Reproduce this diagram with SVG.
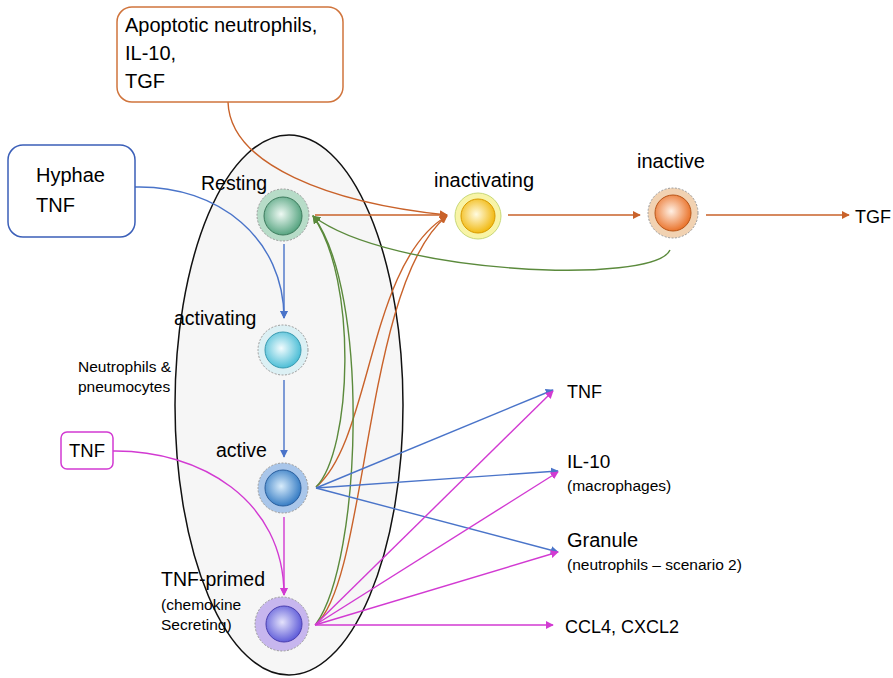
<svg xmlns="http://www.w3.org/2000/svg" width="893" height="678" viewBox="0 0 893 678">
<style>
text{font-family:"Liberation Sans",Arial,sans-serif;fill:#000}
.lbl{font-size:19.5px}
.sm{font-size:15.5px}
.box{fill:#fff;stroke-width:1.5}
.c{fill:none;stroke-width:1.4}
.or{stroke:#c9622a}
.gr{stroke:#5b8a3c}
.bl{stroke:#4a74c9}
.mg{stroke:#d23ad2}
.ring{stroke:#9a9a9a;stroke-width:1;stroke-dasharray:2 1.5}
</style>
<defs>
<marker id="aor" viewBox="0 0 10 10" refX="9" refY="5" markerWidth="8" markerHeight="8" markerUnits="userSpaceOnUse" orient="auto"><path d="M0,0L10,5L0,10z" fill="#c9622a"/></marker>
<marker id="agr" viewBox="0 0 10 10" refX="9" refY="5" markerWidth="8" markerHeight="8" markerUnits="userSpaceOnUse" orient="auto"><path d="M0,0L10,5L0,10z" fill="#5b8a3c"/></marker>
<marker id="abl" viewBox="0 0 10 10" refX="9" refY="5" markerWidth="8" markerHeight="8" markerUnits="userSpaceOnUse" orient="auto"><path d="M0,0L10,5L0,10z" fill="#4a74c9"/></marker>
<marker id="amg" viewBox="0 0 10 10" refX="9" refY="5" markerWidth="8" markerHeight="8" markerUnits="userSpaceOnUse" orient="auto"><path d="M0,0L10,5L0,10z" fill="#d23ad2"/></marker>
<radialGradient id="gGreen" cx="0.45" cy="0.45" r="0.6"><stop offset="0" stop-color="#eef9f3"/><stop offset="1" stop-color="#4b9e78"/></radialGradient>
<radialGradient id="gCyan" cx="0.45" cy="0.45" r="0.6"><stop offset="0" stop-color="#f2fcfe"/><stop offset="1" stop-color="#3fb9d3"/></radialGradient>
<radialGradient id="gBlue" cx="0.45" cy="0.45" r="0.6"><stop offset="0" stop-color="#d8ecfb"/><stop offset="1" stop-color="#2a74c0"/></radialGradient>
<radialGradient id="gPurple" cx="0.45" cy="0.45" r="0.6"><stop offset="0" stop-color="#e4e2fb"/><stop offset="1" stop-color="#5552d6"/></radialGradient>
<radialGradient id="gYellow" cx="0.45" cy="0.45" r="0.6"><stop offset="0" stop-color="#fffbe0"/><stop offset="1" stop-color="#f0b400"/></radialGradient>
<radialGradient id="gOrange" cx="0.45" cy="0.45" r="0.6"><stop offset="0" stop-color="#fff0e4"/><stop offset="1" stop-color="#e8691c"/></radialGradient>
</defs>

<g id="cluster">
<ellipse cx="289" cy="405" rx="114" ry="270" fill="#f6f6f6" stroke="#111" stroke-width="1.5"/>
<text x="78" y="372" class="sm">Neutrophils &amp;</text>
<text x="78" y="392" class="sm">pneumocytes</text>
</g>

<g id="connectors">
<path class="c or" d="M228,102 C230,165 330,203 447,215" marker-end="url(#aor)"/>
<path class="c or" d="M315,215 L447,215" marker-end="url(#aor)"/>
<path class="c or" d="M316,487 C372,440 368,262 447,216" marker-end="url(#aor)"/>
<path class="c or" d="M316,624 C368,580 364,282 447,216" marker-end="url(#aor)"/>
<path class="c or" d="M508,215 L640,215" marker-end="url(#aor)"/>
<path class="c or" d="M706,215 L849,215" marker-end="url(#aor)"/>
<path class="c gr" d="M670,250 C655,285 390,275 313,216" marker-end="url(#agr)"/>
<path class="c gr" d="M316,487 C352,450 358,280 313,216" marker-end="url(#agr)"/>
<path class="c gr" d="M316,624 C362,560 370,290 313,216" marker-end="url(#agr)"/>
<path class="c bl" d="M135,187 C220,185 284,240 284,318" marker-end="url(#abl)"/>
<path class="c bl" d="M284,244 L284,318" marker-end="url(#abl)"/>
<path class="c bl" d="M284,380 L284,457" marker-end="url(#abl)"/>
<path class="c bl" d="M316,488 L553,390" marker-end="url(#abl)"/>
<path class="c bl" d="M316,488 L558,471" marker-end="url(#abl)"/>
<path class="c bl" d="M316,488 L558,552" marker-end="url(#abl)"/>
<path class="c mg" d="M113,451 C200,450 284,500 284,595" marker-end="url(#amg)"/>
<path class="c mg" d="M284,517 L284,595" marker-end="url(#amg)"/>
<path class="c mg" d="M315,625 L553,391" marker-end="url(#amg)"/>
<path class="c mg" d="M315,625 L558,472" marker-end="url(#amg)"/>
<path class="c mg" d="M315,625 L558,552" marker-end="url(#amg)"/>
<path class="c mg" d="M315,625 L553,625" marker-end="url(#amg)"/>
</g>

<g id="apoptotic">
<rect x="117" y="7" width="226" height="95" rx="15" class="box" stroke="#d0743c"/>
<text x="125" y="32" style="font-size:20px">Apoptotic neutrophils,</text>
<text x="125" y="60" style="font-size:20px">IL-10,</text>
<text x="125" y="88" style="font-size:20px">TGF</text>
</g>

<g id="hyphae">
<rect x="8" y="145" width="127" height="92" rx="15" class="box" stroke="#3b5fb8"/>
<text x="36" y="182" style="font-size:20px">Hyphae</text>
<text x="36" y="212" style="font-size:20px">TNF</text>
</g>

<g id="tnf-input">
<rect x="61" y="432" width="52" height="37" rx="6" class="box" stroke="#d23ad2"/>
<text x="69" y="457" style="font-size:18.5px">TNF</text>
</g>

<g id="resting">
<circle cx="283" cy="215" r="26" fill="#b7dcc8" class="ring"/>
<circle cx="283" cy="216" r="19" fill="url(#gGreen)" stroke="#3c7a5c" stroke-width="1"/>
<text x="201" y="190" class="lbl">Resting</text>
</g>

<g id="activating">
<circle cx="283" cy="350" r="25" fill="#dcf0f4" class="ring"/>
<circle cx="283" cy="350" r="18" fill="url(#gCyan)" stroke="#3a9ab0" stroke-width="1"/>
<text x="174" y="325" class="lbl">activating</text>
</g>

<g id="active">
<circle cx="283" cy="488" r="25" fill="#a9c6ea" class="ring"/>
<circle cx="283" cy="488" r="18" fill="url(#gBlue)" stroke="#2a5f9e" stroke-width="1"/>
<text x="216" y="457" class="lbl">active</text>
</g>

<g id="tnf-primed">
<circle cx="282" cy="624" r="27" fill="#c7b6ee" class="ring"/>
<circle cx="284" cy="624" r="18" fill="url(#gPurple)" stroke="#4a3fb0" stroke-width="1"/>
<text x="161" y="586" class="lbl">TNF-primed</text>
<text x="161" y="610" class="sm">(chemokine</text>
<text x="161" y="630" class="sm">Secreting)</text>
</g>

<g id="inactivating">
<circle cx="478" cy="216" r="23" fill="#f8f4a6" stroke="#c8d878" stroke-width="1"/>
<circle cx="478" cy="216" r="17" fill="url(#gYellow)" stroke="#d99a00" stroke-width="1"/>
<text x="434" y="187" style="font-size:20px">inactivating</text>
</g>

<g id="inactive">
<circle cx="673" cy="213" r="25" fill="#f1d2b2" class="ring"/>
<circle cx="673" cy="213" r="18" fill="url(#gOrange)" stroke="#b8561a" stroke-width="1"/>
<text x="637" y="168" style="font-size:20px">inactive</text>
</g>

<g id="tgf-out"><text x="855" y="223" style="font-size:18px">TGF</text></g>
<g id="tnf-out"><text x="567" y="398" style="font-size:18px">TNF</text></g>
<g id="il10-out">
<text x="567" y="468" style="font-size:19px">IL-10</text>
<text x="567" y="491" class="sm">(macrophages)</text>
</g>
<g id="granule-out">
<text x="567" y="547" style="font-size:20px">Granule</text>
<text x="567" y="570" style="font-size:15.5px">(neutrophils – scenario 2)</text>
</g>
<g id="ccl4-out"><text x="565" y="633" style="font-size:18px">CCL4, CXCL2</text></g>
</svg>
